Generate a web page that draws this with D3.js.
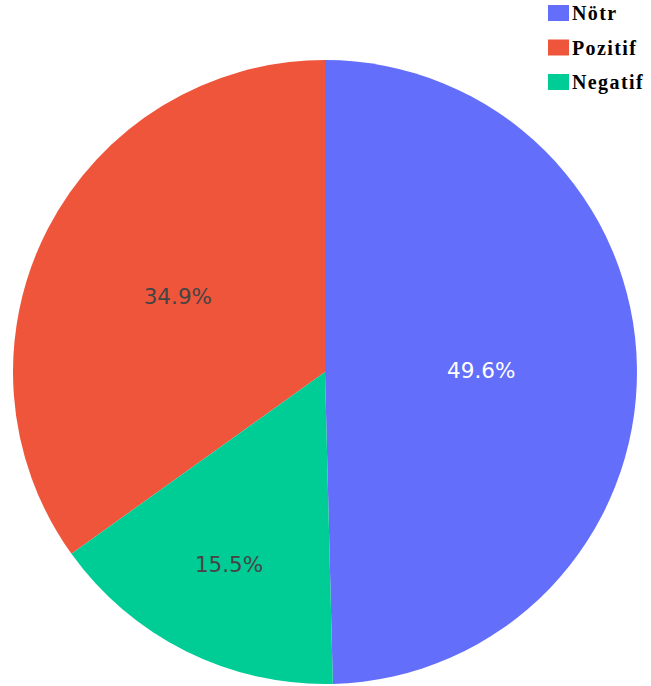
<!DOCTYPE html>
<html>
<head>
<meta charset="utf-8">
<script src="https://cdn.jsdelivr.net/npm/d3@7"></script>
<style>
  html, body { margin: 0; padding: 0; background: #ffffff; }
  svg { display: block; }
</style>
</head>
<body>
<script>
// Chart data (legend order)
const labels = ["Nötr", "Pozitif", "Negatif"];
const percents = [49.6, 34.9, 15.5];
const colors = ["#636efa", "#ef553b", "#00cc96"];
const textColors = ["#ffffff", "#444444", "#444444"];

const WIDTH = 651;
const HEIGHT = 686;

const svg = d3.select("body")
  .append("svg")
  .attr("width", WIDTH)
  .attr("height", HEIGHT)
  .style("background-color", "#ffffff");

// -----------------------------
// Pie
// -----------------------------
const CX = 325;
const CY = 372;
const RADIUS = 312;

const rows = labels.map((label, i) => ({ label, value: percents[i], color: colors[i], text: textColors[i] }));

// counter-clockwise, Nötr ends at the top
const startA = 2 * Math.PI * percents[0] / 100;
const pie = d3.pie()
  .sort(null)
  .value(d => d.value)
  .startAngle(startA)
  .endAngle(startA - 2 * Math.PI);

const arcs = pie(rows);

const arc = d3.arc()
  .innerRadius(0)
  .outerRadius(RADIUS);

const pieGroup = svg.append("g")
  .attr("transform", `translate(${CX},${CY})`);

pieGroup.selectAll("path")
  .data(arcs)
  .enter()
  .append("path")
  .attr("d", arc)
  .attr("fill", d => d.data.color);

// labels pushed outward in narrow slices
pieGroup.selectAll("text")
  .data(arcs)
  .enter()
  .append("text")
  .attr("transform", d => {
    const mid = (d.startAngle + d.endAngle) / 2;
    const frac = Math.abs(d.endAngle - d.startAngle) / (2 * Math.PI);
    const k = Math.max(0.5 + 0.2 * (0.5 - frac), 1 - 2 * frac) * RADIUS;
    return `translate(${k * Math.sin(mid)},${-k * Math.cos(mid)})`;
  })
  .attr("text-anchor", "middle")
  .attr("dominant-baseline", "central")
  .style("font-family", "'DejaVu Sans', verdana, sans-serif")
  .style("font-size", "21.5px")
  .attr("fill", d => d.data.text)
  .text(d => d3.format(".1f")(d.data.value) + "%");

// -----------------------------
// Legend
// -----------------------------
const legend = svg.append("g")
  .attr("transform", "translate(548,13)");

const item = legend.selectAll("g")
  .data(rows)
  .enter()
  .append("g")
  .attr("transform", (d, i) => `translate(0,${i * 34.5})`);

item.append("rect")
  .attr("x", 0)
  .attr("y", -8)
  .attr("width", 21)
  .attr("height", 16)
  .attr("fill", d => d.color);

item.append("text")
  .attr("x", 24)
  .attr("y", 7)
  .style("font-family", "'Liberation Serif', 'Times New Roman', serif")
  .style("font-weight", "bold")
  .style("font-size", "20px")
  .style("letter-spacing", "1.4px")
  .attr("fill", "#000000")
  .text(d => d.label);
</script>
</body>
</html>
